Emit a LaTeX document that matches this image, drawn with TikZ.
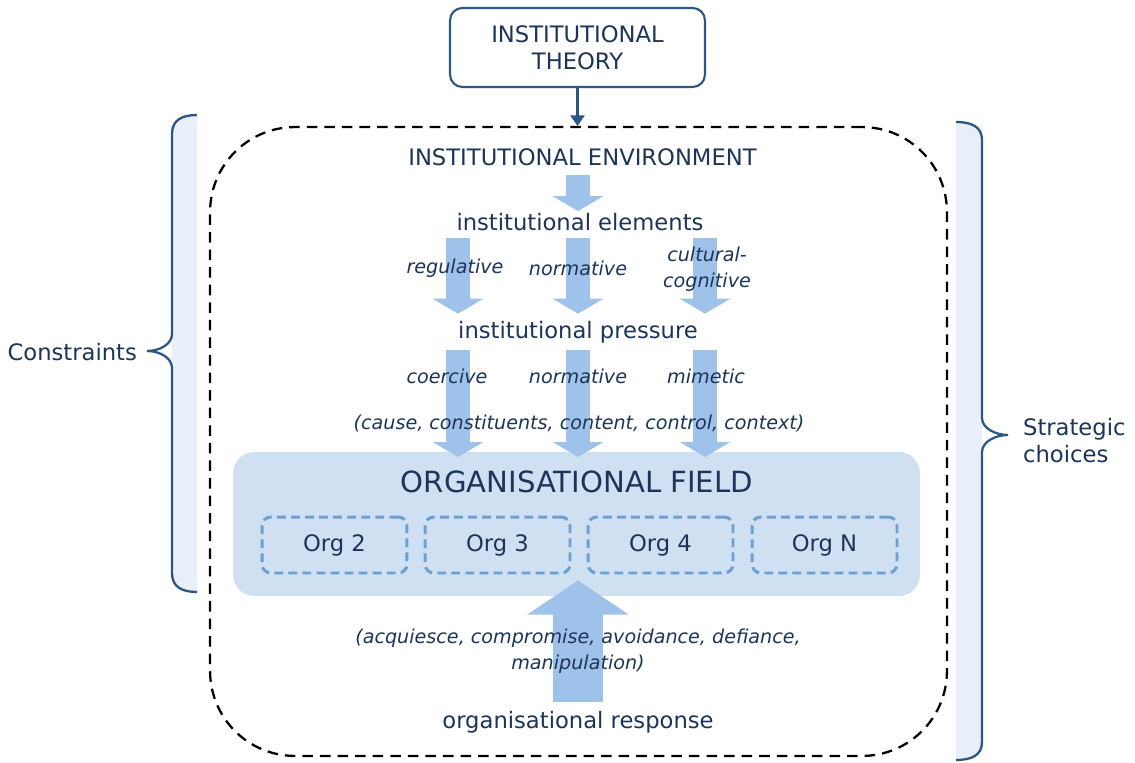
\documentclass[tikz,border=0pt]{standalone}
\usepackage{fontspec}
\setmainfont{DejaVu Sans}
\usetikzlibrary{arrows.meta}

\definecolor{navy}{RGB}{28,52,88}
\definecolor{braceline}{RGB}{44,86,132}
\definecolor{bracefill}{RGB}{232,239,249}
\definecolor{fieldfill}{RGB}{207,224,242}
\definecolor{arrowfill}{RGB}{158,194,233}
\definecolor{orgline}{RGB}{108,160,210}

\tikzset{
  txt/.style={text=navy, font=\fontsize{12.9pt}{15.4pt}\selectfont, align=center, inner sep=1pt},
  itxt/.style={text=navy, font=\fontsize{10.9pt}{14.8pt}\selectfont\itshape, align=center, inner sep=1pt},
  flow/.style={draw=arrowfill, line width=14.2pt, -{Triangle[width=28.5pt,length=8.5pt]}},
  response/.style={draw=arrowfill, line width=28.5pt, -{Triangle[width=57pt,length=19.4pt]}},
  orgbox/.style={txt, draw=orgline, line width=1.7pt, dash pattern=on 5pt off 3pt,
    rounded corners=5pt, minimum width=2.9cm, minimum height=1.12cm},
}

\begin{document}
\begin{tikzpicture}[x=0.02cm, y=-0.02cm]
  \useasboundingbox (0,0) rectangle (1135,763);

  % side braces
  \fill[bracefill] (197,115) .. controls (182,115) and (172,120) .. (172,134) -- (172,573)
    .. controls (172,587) and (182,592) .. (197,592) -- cycle;
  \draw[braceline, line width=1.3pt] (197,115) .. controls (182,115) and (172,120) .. (172,134)
    -- (172,334) .. controls (172,344) and (160,351) .. (147,351)
    .. controls (160,351) and (172,358) .. (172,368) -- (172,573)
    .. controls (172,587) and (182,592) .. (197,592);
  \fill[bracefill] (956,122) .. controls (972,122) and (982,127) .. (982,140) -- (982,742)
    .. controls (982,755) and (972,760) .. (956,760) -- cycle;
  \draw[braceline, line width=1.3pt] (956,122) .. controls (972,122) and (982,127) .. (982,140)
    -- (982,418) .. controls (982,428) and (995,435) .. (1008,435)
    .. controls (995,435) and (982,442) .. (982,452) -- (982,742)
    .. controls (982,755) and (972,760) .. (956,760);
  \node[txt, anchor=east] (constraints) at (139,352) {Constraints};
  \node[txt, anchor=west, align=left] (choices) at (1021,441) {Strategic\\choices};

  % environment frame and theory box
  \node[draw=black, line width=1.3pt, dash pattern=on 6pt off 4pt, rounded corners=1.7cm,
    minimum width=14.74cm, minimum height=12.58cm, inner sep=0pt] (frame) at (578.5,441.5) {};
  \node[txt, draw=braceline, line width=1.2pt, rounded corners=7pt, fill=white,
    minimum width=5.1cm, minimum height=1.58cm] (theory) at (577.5,47.5) {INSTITUTIONAL\\THEORY};
  \draw[braceline, line width=1.3pt, -{Triangle[width=8pt,length=6pt]}] (theory.south) -- (theory.south |- frame.north);

  \coordinate (c1) at (458,0);
  \coordinate (c2) at (578,0);
  \coordinate (c3) at (705,0);

  % organisational field
  \node[fill=fieldfill, rounded corners=12pt, minimum width=13.74cm, minimum height=2.88cm] (field) at (576.5,524) {};
  \node[txt, font=\fontsize{16.6pt}{19pt}\selectfont] (fieldtitle) at (577,482) {ORGANISATIONAL FIELD};
  \node[orgbox] (org2) at (334.5,545) {Org 2};
  \node[orgbox] (org3) at (497.5,545) {Org 3};
  \node[orgbox] (org4) at (660.5,545) {Org 4};
  \node[orgbox] (orgn) at (824.5,545) {Org N};

  % levels
  \node[txt] (env) at (582.5,157) {INSTITUTIONAL ENVIRONMENT};
  \node[txt] (elem) at (580,222) {institutional elements};
  \node[txt] (press) at (578,332) {institutional pressure};
  \node[txt] (resp) at (578,722) {organisational response};

  \draw[flow, shorten <=4pt] (env.south -| c2) -- (elem.north -| c2);
  \foreach \c in {c1,c2,c3} {
    \draw[flow, shorten <=3pt, shorten >=3pt] (elem.south -| \c) -- (press.north -| \c);
    \draw[flow, shorten <=3pt, shorten >=-3pt] (press.south -| \c) -- (field.north -| \c);
  }
  \draw[response, shorten <=4pt, shorten >=-9pt] (resp.north) -- (field.south -| resp.north);

  % labels over the arrows
  \node[itxt] (regulative) at (455,268) {regulative};
  \node[itxt] (normative) at (578,268) {normative};
  \node[itxt] (cultural) at (707,269) {cultural-\\cognitive};
  \node[itxt] (coercive) at (447,376) {coercive};
  \node[itxt] (normative2) at (578,376) {normative};
  \node[itxt] (mimetic) at (706,376) {mimetic};
  \node[itxt] (causes) at (579,423) {(cause, constituents, content, control, context)};
  \node[itxt] (strategies) at (578,651) {(acquiesce, compromise, avoidance, defiance,\\manipulation)};
\end{tikzpicture}
\end{document}
